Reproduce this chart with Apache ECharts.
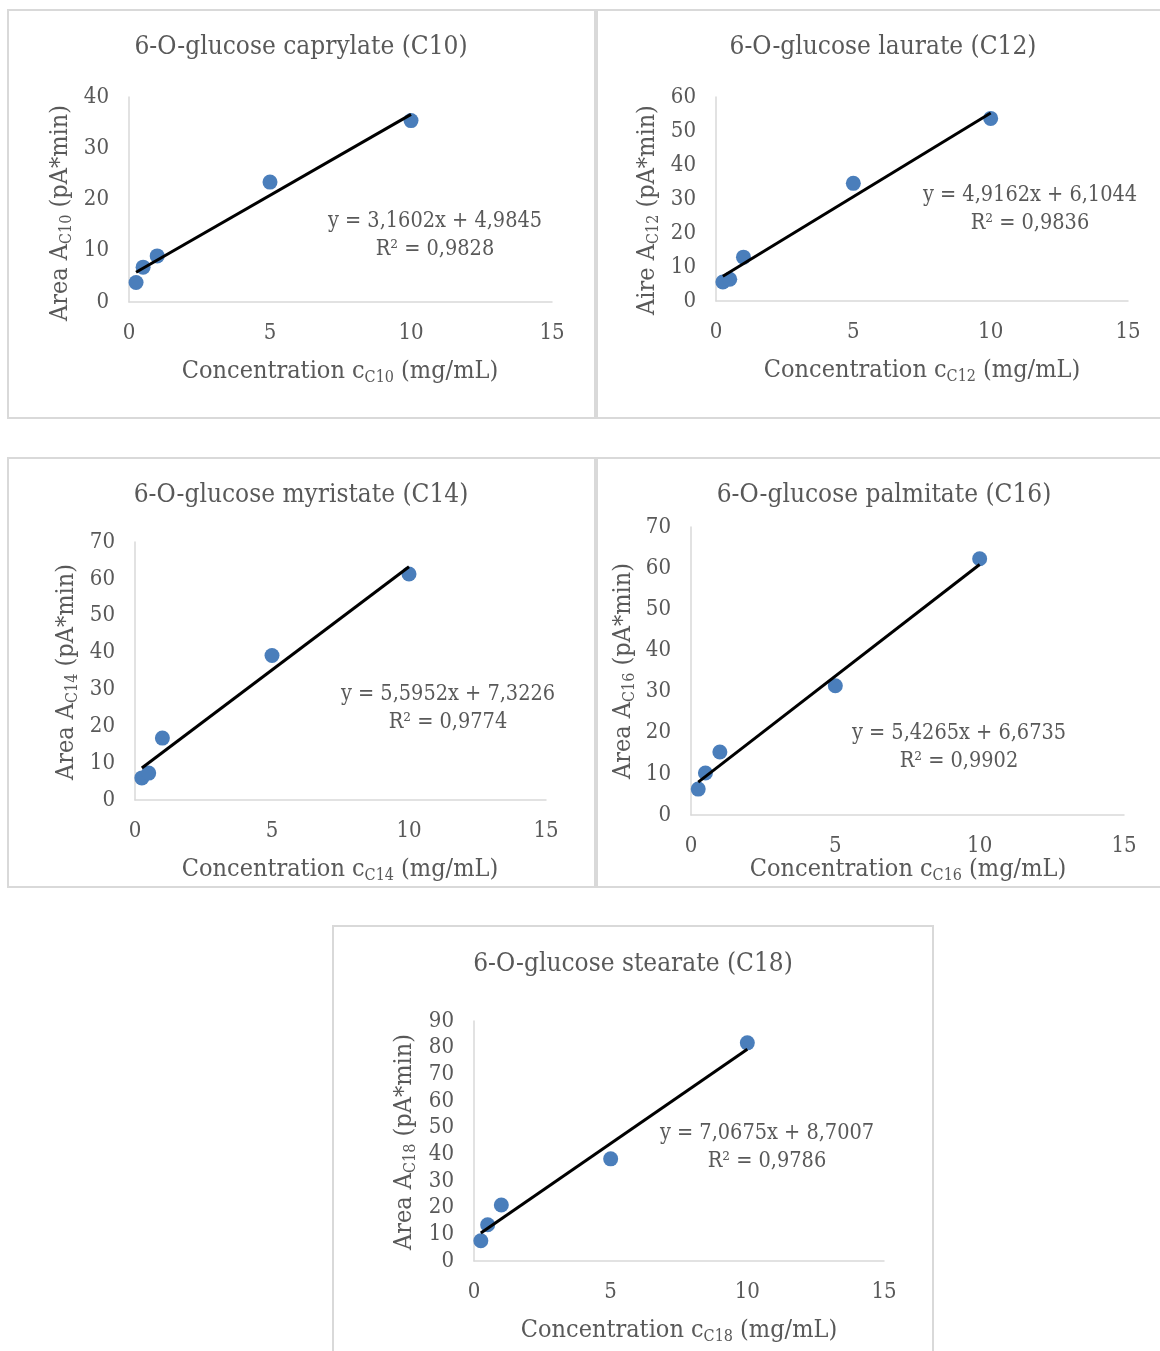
<!DOCTYPE html>
<html>
<head>
<meta charset="utf-8">
<script src="https://cdn.jsdelivr.net/npm/echarts@6/dist/echarts.min.js"></script>
<style>
html,body{margin:0;padding:0;background:#fff;}
#chart{width:1160px;height:1351px;}
</style>
</head>
<body>
<div id="chart"></div>
<script>
// ---- data ----
const concentration = [0.25, 0.5, 1, 5, 10];
const areaC10 = [3.8, 6.8, 9.0, 23.4, 35.4];
const areaC12 = [5.6, 6.4, 12.9, 34.6, 53.7];
const areaC14 = [6.0, 7.3, 16.8, 39.2, 61.3];
const areaC16 = [6.3, 10.2, 15.3, 31.4, 62.3];
const areaC18 = [7.6, 13.6, 21.0, 38.3, 81.8];

const trendX = [0.25, 10];
const trendC10 = [5.8, 36.6];
const trendC12 = [7.3, 55.3];
const trendC14 = [8.7, 63.3];
const trendC16 = [8.0, 60.9];
const trendC18 = [10.5, 79.4];

const xTickMax = 15;
const yMaxes = [40, 60, 70, 70, 90];

const titles = ['6-O-glucose caprylate (C10)', '6-O-glucose laurate (C12)', '6-O-glucose myristate (C14)', '6-O-glucose palmitate (C16)', '6-O-glucose stearate (C18)'];
const subs = ['C10', 'C12', 'C14', 'C16', 'C18'];
const yPrefix = ['Area A', 'Aire A', 'Area A', 'Area A', 'Area A'];
const equations = ['y = 3,1602x + 4,9845', 'y = 4,9162x + 6,1044', 'y = 5,5952x + 7,3226', 'y = 5,4265x + 6,6735', 'y = 7,0675x + 8,7007'];
const r2 = ['R² = 0,9828', 'R² = 0,9836', 'R² = 0,9774', 'R² = 0,9902', 'R² = 0,9786'];

const areas = [areaC10, areaC12, areaC14, areaC16, areaC18];
const trends = [trendC10, trendC12, trendC14, trendC16, trendC18];

// ---- layout ----
const panels = [
  {box:[8,10,587,408],  grid:[129,97,423,205],  title:[301,47], xname:[340,371], yname:[60,213],  eq:[435,235]},
  {box:[597,10,570,408],grid:[716,97,412,204],  title:[883,47], xname:[922,370], yname:[647,210], eq:[1030,209]},
  {box:[8,458,587,429], grid:[135,542,411,258], title:[301,495],xname:[340,869], yname:[66,672],  eq:[448,708]},
  {box:[597,458,570,429],grid:[691,527,433,288],title:[884,495],xname:[908,869], yname:[623,671], eq:[959,747]},
  {box:[333,926,600,440],grid:[474,1021,410,240],title:[633,964],xname:[679,1330],yname:[404,1142],eq:[767,1147]}
];

const FONT = '"DejaVu Serif Condensed", "DejaVu Serif", serif';
const GREY = '#595959';
const AXIS = '#d9d9d9';
const BLUE = '#4a7ebb';

function richLabel(pre, sub, post) {
  return {
    text: '{m|' + pre + '}{s|' + sub + '}{m|' + post + '}',
    rich: {
      m: {fontSize: 25, fontFamily: FONT, fill: GREY, lineHeight: 30},
      s: {fontSize: 16, fontFamily: FONT, fill: GREY, lineHeight: 15, verticalAlign: 'bottom'}
    }
  };
}

const grids = [], xAxes = [], yAxes = [], series = [], graphics = [];
panels.forEach((p, i) => {
  graphics.push({type:'rect', shape:{x:p.box[0], y:p.box[1], width:p.box[2], height:p.box[3]},
    style:{fill:'none', stroke:AXIS, lineWidth:2}, silent:true});
  graphics.push({type:'text', x:p.title[0], y:p.title[1],
    style:{text:titles[i], font:'26px ' + FONT, fill:GREY, align:'center', verticalAlign:'middle'}});
  const xl = richLabel('Concentration c', subs[i], ' (mg/mL)');
  graphics.push({type:'text', x:p.xname[0], y:p.xname[1],
    style:Object.assign({align:'center', verticalAlign:'middle'}, xl)});
  const yl = richLabel(yPrefix[i], subs[i], ' (pA*min)');
  graphics.push({type:'text', x:p.yname[0], y:p.yname[1], rotation:Math.PI/2,
    style:Object.assign({align:'center', verticalAlign:'middle'}, yl)});
  graphics.push({type:'text', x:p.eq[0], y:p.eq[1],
    style:{text:equations[i] + '\n' + r2[i], font:'21.5px ' + FONT, fill:GREY, align:'center', verticalAlign:'middle', lineHeight:28}});

  grids.push({left:p.grid[0], top:p.grid[1], width:p.grid[2], height:p.grid[3], containLabel:false});
  xAxes.push({type:'value', gridIndex:i, min:0, max:xTickMax, interval:5,
    axisLine:{show:true, lineStyle:{color:AXIS, width:1.5}}, axisTick:{show:false}, splitLine:{show:false},
    axisLabel:{color:GREY, fontFamily:FONT, fontSize:22, margin:20}});
  yAxes.push({type:'value', gridIndex:i, min:0, max:yMaxes[i], interval:10,
    axisLine:{show:true, onZero:false, lineStyle:{color:AXIS, width:1.5}}, axisTick:{show:false}, splitLine:{show:false},
    axisLabel:{color:GREY, fontFamily:FONT, fontSize:22, margin:20}});
  series.push({type:'scatter', xAxisIndex:i, yAxisIndex:i, symbolSize:15,
    itemStyle:{color:BLUE, opacity:1},
    data: concentration.map((c, k) => [c, areas[i][k]]), z:3});
  series.push({type:'line', xAxisIndex:i, yAxisIndex:i, symbol:'none',
    lineStyle:{color:'#000', width:3}, data: trendX.map((c, k) => [c, trends[i][k]]), z:4, silent:true});
});

const chart = echarts.init(document.getElementById('chart'), null, {renderer:'canvas'});
chart.setOption({
  backgroundColor:'#fff',
  animation:false,
  grid:grids, xAxis:xAxes, yAxis:yAxes, series:series,
  graphic:graphics
});
</script>
</body>
</html>
